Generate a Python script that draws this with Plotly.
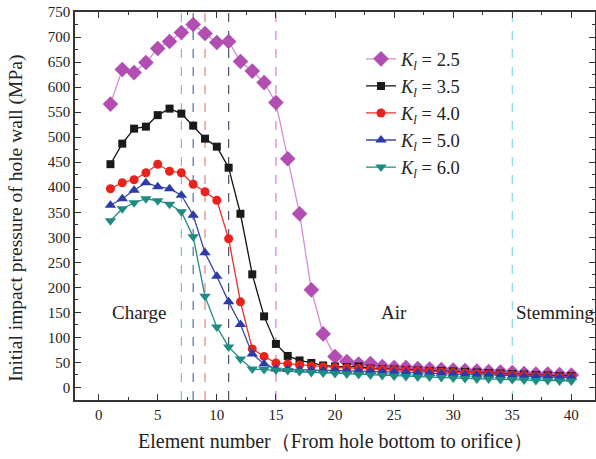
import plotly.graph_objects as go

elements = list(range(1, 41))
k25 = [566, 635, 629, 649, 677, 691, 709, 725, 707, 689, 691, 651, 632, 609, 569, 457, 347, 195, 107, 62,
       52, 47, 48, 42, 40, 40, 38, 37, 36, 35, 34, 33, 32, 31, 30, 28, 27, 27, 26, 25]
k35 = [446, 487, 517, 521, 544, 557, 547, 523, 497, 481, 439, 347, 226, 142, 87, 63, 54, 49, 44, 42,
       41, 42, 38, 37, 36, 35, 34, 33, 33, 32, 31, 30, 29, 28, 27, 26, 25, 24, 23, 23]
k40 = [397, 409, 415, 429, 446, 432, 429, 406, 391, 374, 297, 171, 77, 62, 49, 47, 45, 43, 41, 40,
       39, 38, 37, 36, 35, 34, 33, 32, 31, 30, 29, 28, 27, 26, 25, 24, 23, 22, 21, 21]
k50 = [364, 377, 394, 409, 401, 397, 384, 344, 269, 222, 171, 126, 67, 47, 37, 36, 35, 35, 34, 34,
       33, 33, 32, 31, 31, 30, 29, 28, 28, 27, 26, 25, 25, 24, 23, 22, 22, 21, 20, 20]
k60 = [333, 357, 369, 377, 373, 366, 351, 301, 182, 121, 81, 57, 37, 36, 35, 34, 32, 30, 29, 28,
       27, 26, 25, 24, 23, 22, 21, 21, 20, 19, 18, 17, 17, 16, 16, 15, 14, 14, 13, 13]

series_names = ["<i>K</i><sub><i>l</i></sub> = 2.5", "<i>K</i><sub><i>l</i></sub> = 3.5",
                "<i>K</i><sub><i>l</i></sub> = 4.0", "<i>K</i><sub><i>l</i></sub> = 5.0",
                "<i>K</i><sub><i>l</i></sub> = 6.0"]
boundary_x = [7, 8, 9, 11, 15, 35]
boundary_colors = ["#7fb8dc", "#5a66b8", "#e88080", "#505068", "#d77ad7", "#7fd8e6"]
zone_labels = ["Charge", "Air", "Stemming"]
zone_x = [3.45, 25, 35.15]
zone_y = [149, 149, 149]
zone_anchor = ["center", "center", "left"]
x_title = "Element number\uff08From hole bottom to orifice\uff09"
y_title = "Initial impact pressure of hole wall (MPa)"

styles = [
    dict(line="#d58bd5", marker="#b24db2", symbol="diamond", size=12),
    dict(line="#111111", marker="#1a1a1a", symbol="square", size=8),
    dict(line="#e8322c", marker="#e8231e", symbol="circle", size=9),
    dict(line="#3a46a8", marker="#2b3ba8", symbol="triangle-up", size=10),
    dict(line="#1e8c82", marker="#1e8c82", symbol="triangle-down", size=10),
]

fig = go.Figure()
for name, vals, st in zip(series_names, [k25, k35, k40, k50, k60], styles):
    fig.add_trace(go.Scatter(
        x=elements, y=vals, mode="lines+markers", name=name,
        line=dict(color=st["line"], width=1.3),
        marker=dict(color=st["marker"], symbol=st["symbol"], size=st["size"]),
    ))

for bx, bc in zip(boundary_x, boundary_colors):
    fig.add_shape(type="line", x0=bx, x1=bx, y0=0, y1=1, xref="x", yref="paper",
                  line=dict(color=bc, width=1.2, dash="dash"), layer="below")

for t, tx, ty, ta in zip(zone_labels, zone_x, zone_y, zone_anchor):
    fig.add_annotation(x=tx, y=ty, text=t, showarrow=False, xanchor=ta,
                       font=dict(family="Liberation Serif", size=19, color="#222"))

fig.add_annotation(text=x_title, x=0.5, y=-0.106, xref="paper", yref="paper",
                   showarrow=False, xanchor="center", yanchor="middle",
                   font=dict(family="Liberation Serif", size=20, color="#222"))
fig.add_annotation(text=y_title, x=-0.113, y=0.468, xref="paper", yref="paper",
                   showarrow=False, xanchor="center", yanchor="middle", textangle=-90,
                   font=dict(family="Liberation Serif", size=19.5, color="#222"))

axis_common = dict(showline=True, linecolor="#333", linewidth=1.5, mirror="ticks",
                   ticks="inside", tickcolor="#333", ticklen=6, tickwidth=1.2,
                   showgrid=False, zeroline=False, automargin=False,
                   tickfont=dict(family="Liberation Serif", size=15, color="#222"))

fig.update_layout(
    width=596, height=459,
    margin=dict(l=75, r=1, t=12, b=59),
    plot_bgcolor="white", paper_bgcolor="white",
    font=dict(family="Liberation Serif", color="#222"),
    legend=dict(x=0.55, y=0.927, xanchor="left", yanchor="top",
                font=dict(family="Liberation Serif", size=18.5, color="#222"),
                bgcolor="rgba(0,0,0,0)", tracegroupgap=0),
    xaxis=dict(range=[-2, 42], tickvals=[0, 5, 10, 15, 20, 25, 30, 35, 40],
               minor=dict(dtick=2.5, tick0=0, ticks="inside", ticklen=3, tickcolor="#333"),
               **axis_common),
    yaxis=dict(range=[-25, 750], tickvals=list(range(0, 751, 50)),
               minor=dict(dtick=25, tick0=0, ticks="inside", ticklen=3, tickcolor="#333"),
               **axis_common),
)

# remove the default 8px page margin so the figure sits at the window's top-left corner
fig.write_html("out.html", config={"displayModeBar": False},
               post_script="document.body.style.margin='0';")
